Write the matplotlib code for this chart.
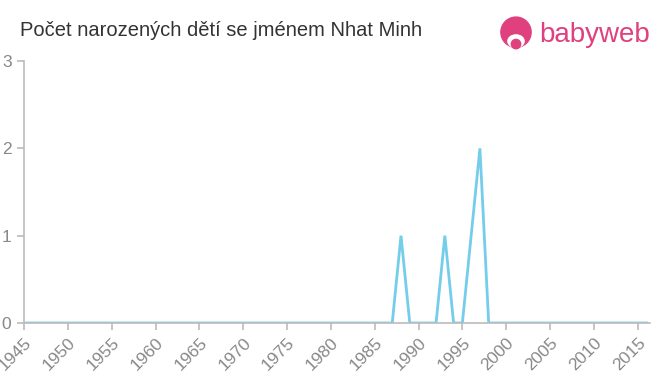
import numpy as np
import matplotlib.pyplot as plt
from matplotlib.patches import Circle, Ellipse

plt.rcParams['font.family'] = ['Liberation Sans', 'DejaVu Sans']

# data
years = list(range(1945, 2017))
counts = [0] * len(years)
peaks = {1988: 1, 1993: 1, 1996: 1, 1997: 2}
for y, v in peaks.items():
    counts[years.index(y)] = v
xticks = list(range(1945, 2016, 5))
yticks = [0, 1, 2, 3]

fig = plt.figure(figsize=(6.6, 3.75), dpi=100)
ax = fig.add_axes([24 / 660, 52 / 375, 626 / 660, 262 / 375])

ax.plot(years, counts, color='#74cdea', linewidth=2, solid_joinstyle='miter')

ax.set_xlim(1945, 2016.4)
ax.set_ylim(0, 3)
ax.set_xticks(xticks)
ax.set_yticks(yticks)
ax.set_xticklabels([str(t) for t in xticks], rotation=45, ha='right',
                   rotation_mode='anchor')
ax.tick_params(axis='both', colors='#bbbbbb', labelcolor='#888888',
               labelsize=12.5, length=5, width=1.2)
ax.tick_params(axis='y', pad=4)
for side in ('top', 'right'):
    ax.spines[side].set_visible(False)
for side in ('left', 'bottom'):
    ax.spines[side].set_color('#bbbbbb')
    ax.spines[side].set_linewidth(1.2)

fig.text(20 / 660, 1 - 31 / 375, 'Počet narozených dětí se jménem Nhat Minh',
         fontsize=14.5, color='#333333', va='center', ha='left')

# logo
pink = '#e0407e'
logo_ax = fig.add_axes([498 / 660, 1 - 52 / 375, 36 / 660, 36 / 375])
logo_ax.set_xlim(0, 1)
logo_ax.set_ylim(0, 1)
logo_ax.set_aspect('equal')
logo_ax.axis('off')
logo_ax.add_patch(Circle((0.5, 0.55), 0.42, color=pink))
logo_ax.add_patch(Ellipse((0.5, 0.3), 0.45, 0.35, color='white'))
logo_ax.add_patch(Circle((0.5, 0.22), 0.13, color=pink))
fig.text(539 / 660, 1 - 35 / 375, 'babyweb', fontsize=20, color=pink,
         va='center', ha='left')

fig.savefig('out.png', dpi=100)
